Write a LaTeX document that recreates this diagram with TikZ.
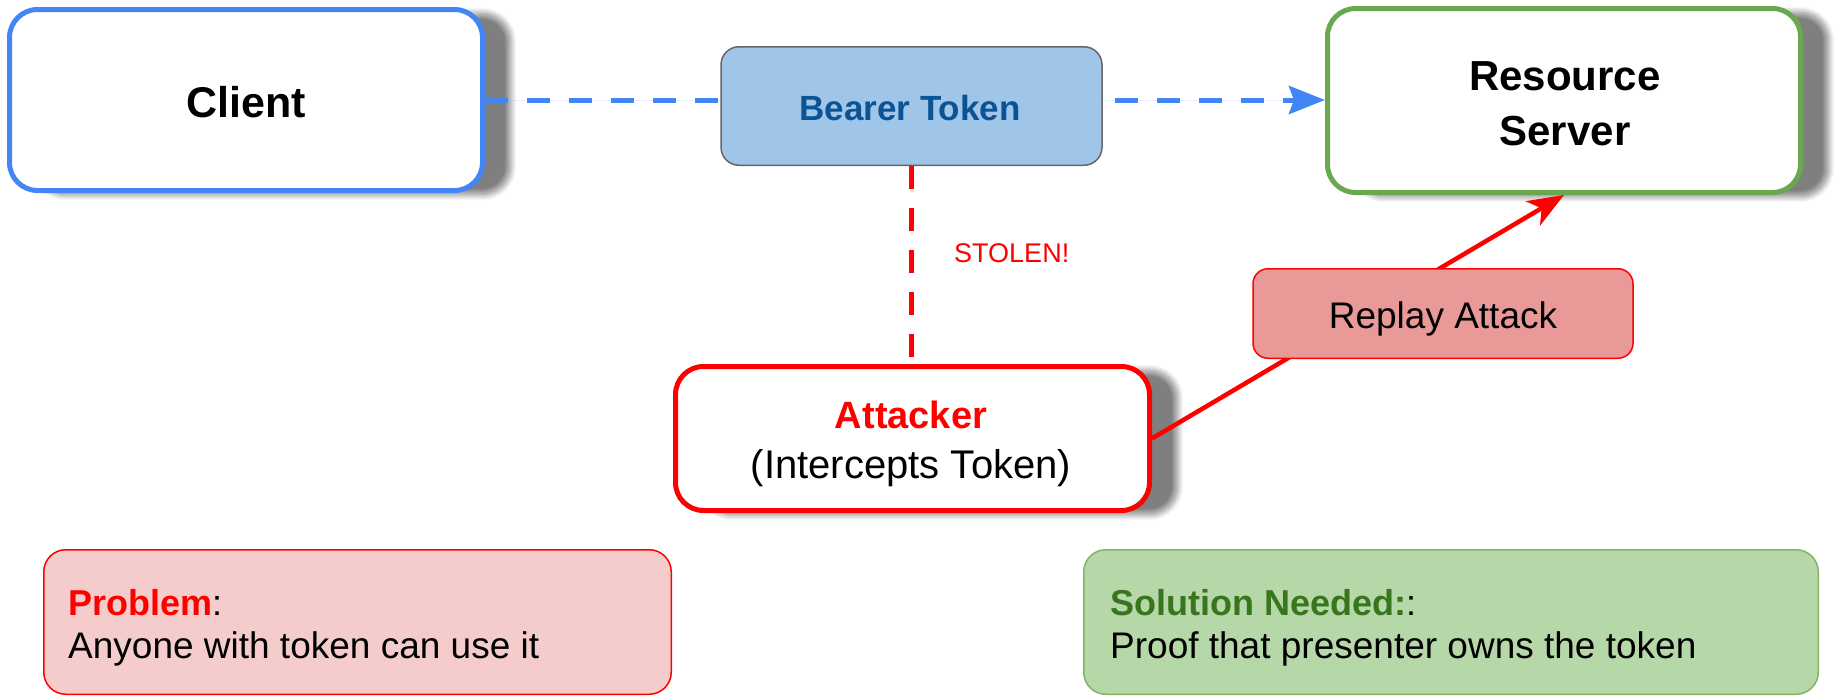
\documentclass[tikz,border=0pt]{standalone}
\usepackage{fontspec}
\setmainfont{Liberation Sans}
\usetikzlibrary{arrows.meta,shadows.blur}
\definecolor{cblue}{HTML}{4285F4}
\definecolor{sgreen}{HTML}{6AA84F}
\definecolor{tokfill}{HTML}{9FC5E8}
\definecolor{tokline}{HTML}{666666}
\definecolor{toktext}{HTML}{0B5394}
\definecolor{replayfill}{HTML}{EA9999}
\definecolor{probfill}{HTML}{F4CCCC}
\definecolor{solfill}{HTML}{B6D7A8}
\definecolor{solline}{HTML}{82B366}
\definecolor{soltext}{HTML}{38761D}
\begin{document}
\begin{tikzpicture}[x=1pt,y=-1pt,
  card/.style={draw, rounded corners=28pt, line width=5pt, fill=white,
    blur shadow={shadow xshift=28pt, shadow yshift=-4pt, shadow blur radius=6pt,
      shadow blur steps=12, shadow opacity=50}},
  tagbox/.style={draw, line width=1.5pt},
  note/.style={draw, line width=1.5pt, rounded corners=22pt, minimum height=144.5pt},
  lbl/.style={inner sep=0pt, anchor=base},
  lblw/.style={inner sep=0pt, anchor=base west},
  flow/.style={line width=5pt, dash pattern=on 23pt off 19pt},
]
\useasboundingbox (0,0) rectangle (1845,696);

% main actors
\node[card, draw=cblue, minimum width=473pt, minimum height=181pt] (client) at (246,100) {};
\node[card, draw=sgreen, minimum width=473pt, minimum height=184pt] (resource) at (1564,100.5) {};
\node[card, draw=red, minimum width=474pt, minimum height=144pt] (attacker) at (912.5,438.5) {};

\node[lbl, font=\fontsize{43}{50}\selectfont\bfseries] (clientname) at (246,117) {Client};
\node[lbl, font=\fontsize{42}{50}\selectfont\bfseries] (resname1) at (1565,90) {Resource};
\node[lbl, font=\fontsize{42}{50}\selectfont\bfseries] (resname2) at (1565,145) {Server};
\node[lbl, font=\fontsize{38}{45}\selectfont\bfseries, text=red] (attname1) at (911,428) {Attacker};
\node[lbl, font=\fontsize{40}{45}\selectfont] (attname2) at (911,478) {(Intercepts Token)};

% normal request carrying the token
\draw[flow, draw=cblue, fill=cblue, -{Stealth[length=36pt,width=28pt,inset=5pt]}]
  (client.east) -- (client.east -| resource.west);
\node[tagbox, draw=tokline, fill=tokfill, rounded corners=18pt, minimum width=381pt,
  minimum height=118.5pt] (token) at (911.5,106) {};
\node[lbl, text=toktext, font=\fontsize{35}{40}\selectfont\bfseries] (tokname) at (910,120) {Bearer Token};

% token theft
\draw[flow, draw=red] (token.south) -- (token.south |- attacker.north);
\node[lblw, text=red, font=\fontsize{27}{30}\selectfont] (stolen) at (954,262) {STOLEN!};

% replay of the stolen token
\draw[line width=4.5pt, draw=red, fill=red, -{Stealth[length=36pt,width=28pt,inset=10pt]}]
  (attacker.east) -- (resource.south);
\node[tagbox, draw=red, fill=replayfill, rounded corners=15pt, minimum width=380pt,
  minimum height=89.5pt] (replay) at (1443,313.5) {};
\node[lbl, font=\fontsize{37}{43}\selectfont] (replayname) at (1443,328) {Replay Attack};

% summary notes
\node[note, draw=red, fill=probfill, minimum width=627.5pt] (problem) at (357.5,622) {};
\node[lblw, font=\fontsize{36}{43}\selectfont] (probhead) at (68,615)
  {\textcolor{red}{\bfseries Problem}:};
\node[lblw, font=\fontsize{37}{43}\selectfont] (probtext) at (68,658)
  {Anyone with token can use it};

\node[note, draw=solline, fill=solfill, minimum width=734.5pt] (solution) at (1451,622) {};
\node[lblw, font=\fontsize{36}{43}\selectfont] (solhead) at (1110,615)
  {\textcolor{soltext}{\bfseries Solution Needed:}:};
\node[lblw, font=\fontsize{37}{43}\selectfont] (soltext) at (1110,658)
  {Proof that presenter owns the token};
\end{tikzpicture}
\end{document}
